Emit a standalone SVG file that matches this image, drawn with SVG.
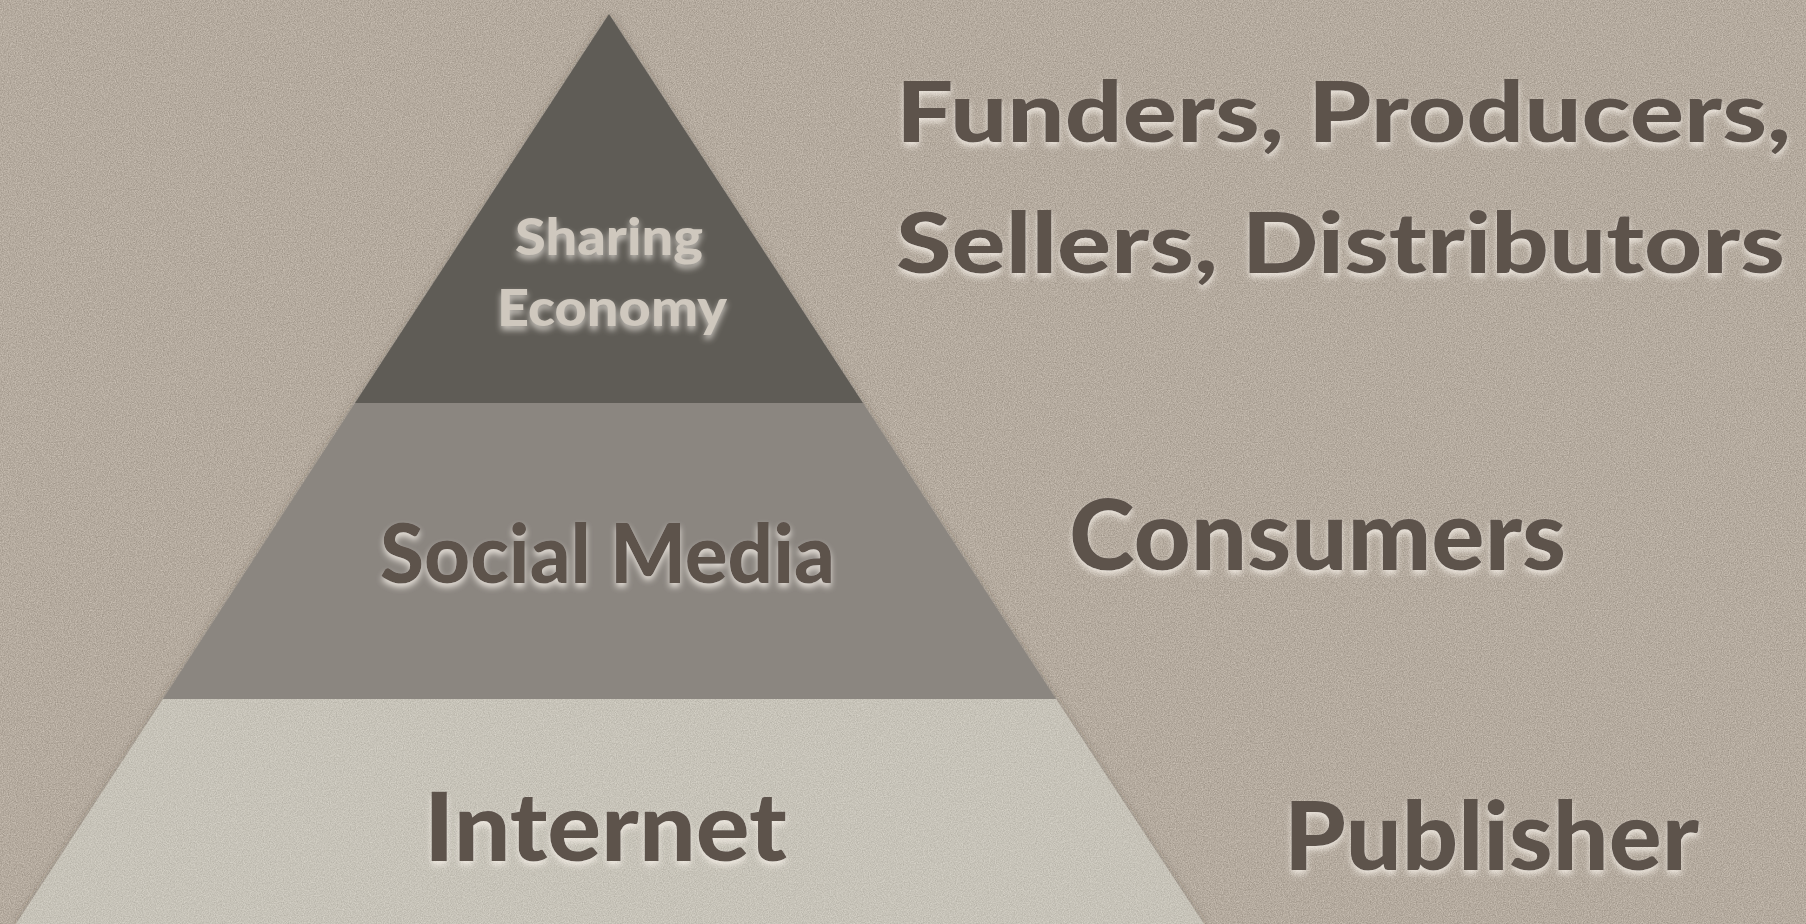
<svg xmlns="http://www.w3.org/2000/svg" width="1806" height="924" viewBox="0 0 1806 924">
  <defs>
    <!-- paper grain -->
    <filter id="grain" x="0" y="0" width="100%" height="100%" color-interpolation-filters="sRGB">
      <feTurbulence type="fractalNoise" baseFrequency="0.85" numOctaves="3" seed="4" result="n"/>
      <feColorMatrix in="n" type="matrix" values="0.6 0 0 0 0.41  0.6 0 0 0 0.37  0.6 0 0 0 0.32  0 0 0 0 0.4" result="g"/>
      <feComposite in="g" in2="SourceGraphic" operator="in"/>
    </filter>
    <filter id="grainLight" x="0" y="0" width="100%" height="100%" color-interpolation-filters="sRGB">
      <feTurbulence type="fractalNoise" baseFrequency="0.85" numOctaves="3" seed="9" result="n"/>
      <feColorMatrix in="n" type="matrix" values="0.5 0 0 0 0.53  0.5 0 0 0 0.51  0.5 0 0 0 0.47  0 0 0 0 0.35" result="g"/>
      <feComposite in="g" in2="SourceGraphic" operator="in"/>
    </filter>
    <!-- soft shade around the pyramid -->
    <filter id="tierShade" x="-10%" y="-10%" width="120%" height="120%">
      <feGaussianBlur in="SourceAlpha" stdDeviation="5"/>
      <feOffset dy="2" result="b"/>
      <feFlood flood-color="#3a332d" flood-opacity="0.35"/>
      <feComposite in2="b" operator="in" result="s"/>
      <feMerge><feMergeNode in="s"/><feMergeNode in="SourceGraphic"/></feMerge>
    </filter>
    <!-- engraved-style glow under the lettering -->
    <filter id="glow" x="-10%" y="-30%" width="120%" height="160%">
      <feGaussianBlur in="SourceAlpha" stdDeviation="3"/>
      <feOffset dy="4" result="b"/>
      <feFlood flood-color="#f4eee6" flood-opacity="0.85"/>
      <feComposite in2="b" operator="in" result="s"/>
      <feMerge><feMergeNode in="s"/><feMergeNode in="SourceGraphic"/></feMerge>
    </filter>
    <filter id="glowTop" x="-10%" y="-30%" width="120%" height="160%">
      <feGaussianBlur in="SourceAlpha" stdDeviation="3"/>
      <feOffset dy="4" result="b"/>
      <feFlood flood-color="#f0ebe4" flood-opacity="0.75"/>
      <feComposite in2="b" operator="in" result="s"/>
      <feMerge><feMergeNode in="s"/><feMergeNode in="SourceGraphic"/></feMerge>
    </filter>
  </defs>
  <style>
    .lbl { font-family: Lato, "Noto Sans", "Liberation Sans", sans-serif; font-weight: 900; fill: #5d524c; filter: url(#glow); }
    .lblTop { font-family: Lato, "Noto Sans", "Liberation Sans", sans-serif; font-weight: 900; fill: #cfc8be; filter: url(#glowTop); }
  </style>

  <!-- background -->
  <rect width="1806" height="924" fill="#b4aa9f"/>
  <rect width="1806" height="924" fill="#b4aa9f" filter="url(#grain)"/>

  <!-- pyramid tiers -->
  <g id="pyramid" filter="url(#tierShade)">
    <g id="tier-internet">
      <polygon points="163,699 1056,699 1204,924 16,924" fill="#c7c3b8"/>
      <polygon points="163,699 1056,699 1204,924 16,924" fill="#c7c3b8" filter="url(#grainLight)"/>
    </g>
    <g id="tier-social">
      <polygon points="355,403 863,403 1056,699 163,699" fill="#8b8680"/>
    </g>
    <g id="tier-sharing">
      <polygon points="609,14 863,403 355,403" fill="#5f5c57"/>
    </g>
  </g>

  <!-- labels inside the pyramid -->
  <g id="label-sharing">
    <text class="lblTop" x="515" y="255" font-size="52" textLength="188" lengthAdjust="spacingAndGlyphs">Sharing</text>
    <text class="lblTop" x="497" y="326" font-size="52" textLength="230" lengthAdjust="spacingAndGlyphs">Economy</text>
  </g>
  <g id="label-social">
    <text class="lbl" x="380" y="583" font-size="81" textLength="455" lengthAdjust="spacingAndGlyphs">Social Media</text>
  </g>
  <g id="label-internet">
    <text class="lbl" x="424" y="861" font-size="95" textLength="363" lengthAdjust="spacingAndGlyphs">Internet</text>
  </g>

  <!-- roles on the right -->
  <g id="role-top">
    <text class="lbl" x="896" y="142" font-size="83" textLength="895" lengthAdjust="spacingAndGlyphs">Funders, Producers,</text>
    <text class="lbl" x="896" y="273" font-size="83" textLength="889" lengthAdjust="spacingAndGlyphs">Sellers, Distributors</text>
  </g>
  <g id="role-middle">
    <text class="lbl" x="1069" y="570" font-size="98" textLength="497" lengthAdjust="spacingAndGlyphs">Consumers</text>
  </g>
  <g id="role-bottom">
    <text class="lbl" x="1284" y="870" font-size="96" textLength="415" lengthAdjust="spacingAndGlyphs">Publisher</text>
  </g>

  <g id="connectors"/>
</svg>
